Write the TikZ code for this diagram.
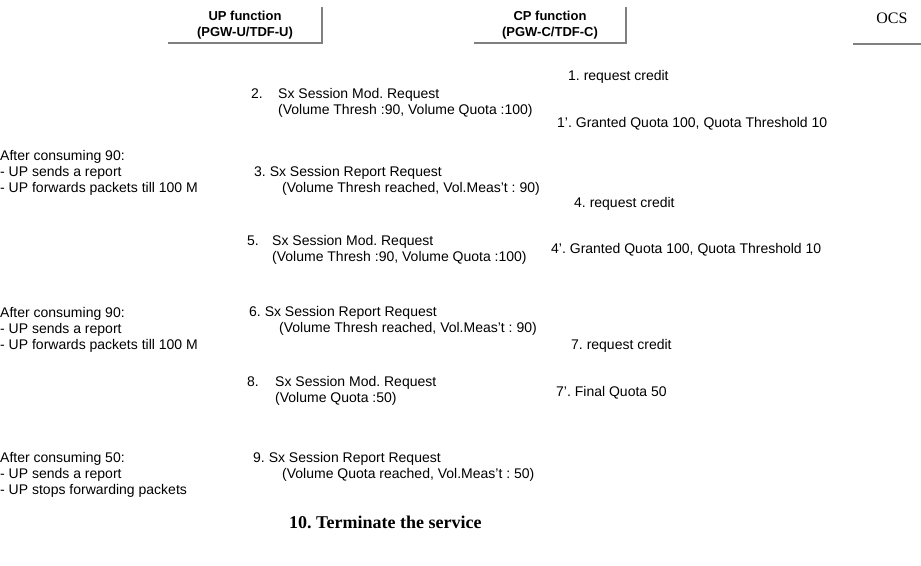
\documentclass[tikz,border=0pt]{standalone}
\usepackage{fontspec}
\setmainfont{Liberation Sans}
\newfontfamily\serifa{Liberation Serif}
\usetikzlibrary{positioning}
\definecolor{sombragris}{rgb}{0.5,0.5,0.5}
\frenchspacing
\tikzset{
  cabecera/.style={
    minimum height=36pt,
    align=center,
    inner sep=0pt,
    font=\fontsize{13}{16}\selectfont\bfseries
  },
  sombra/.style={
    draw=sombragris,
    line width=2pt
  },
  msg/.style={
    anchor=base west,
    align=left,
    inner sep=0pt,
    font=\fontsize{14}{16}\selectfont
  },
  nota/.style={
    msg
  },
  fin/.style={
    anchor=base west,
    inner sep=0pt,
    font=\serifa\fontsize{18}{20}\selectfont\bfseries
  }
}

\begin{document}
\begin{tikzpicture}[x=1pt,y=-1pt]
\useasboundingbox (0,0) rectangle (921,565);
% cabeceras
\node[cabecera,minimum width=154pt] (up) at (245,25) {UP function\\(PGW-U/TDF-U)};
\node[cabecera,minimum width=152pt] (cp) at (550,25) {CP function\\(PGW-C/TDF-C)};
\node[font=\serifa\fontsize{16}{16}\selectfont,inner sep=0pt] (ocs) at (892,18) {OCS};
\coordinate (ocsb) at (853,44);
\draw[sombra] (up.north east) -- (up.south east) -- (up.south west);
\draw[sombra] (cp.north east) -- (cp.south east) -- (cp.south west);
\draw[sombra] (ocsb) -- ++(70,0);
% primer ciclo (base = ultima linea)
\node[msg] (m1) at (568,80) {1. request credit};
\node[msg] (n2) at (251,98) {2.};
\node[msg] (m2) at (278,114) {Sx Session Mod. Request\\(Volume Thresh :90, Volume Quota :100)};
\node[msg] (m1b) at (557,127) {1'. Granted Quota 100, Quota Threshold 10};
\node[nota] (c1) at (0,192) {After consuming 90:\\- UP sends a report\\- UP forwards packets till 100 M};
\node[msg] (m3) at (254,192) {3. Sx Session Report Request\\\hspace*{28pt}(Volume Thresh reached, Vol.Meas't : 90)};
% segundo ciclo
\node[msg] (m4) at (574,207) {4. request credit};
\node[msg] (n5) at (247,245) {5.};
\node[msg] (m5) at (272,261) {Sx Session Mod. Request\\(Volume Thresh :90, Volume Quota :100)};
\node[msg] (m4b) at (551,253) {4'. Granted Quota 100, Quota Threshold 10};
\node[nota] (c2) at (0,349) {After consuming 90:\\- UP sends a report\\- UP forwards packets till 100 M};
\node[msg] (m6) at (249,332) {6. Sx Session Report Request\\\hspace*{30pt}(Volume Thresh reached, Vol.Meas't : 90)};
% tercer ciclo
\node[msg] (m7) at (571,349) {7. request credit};
\node[msg] (n8) at (247,386) {8.};
\node[msg] (m8) at (275,402) {Sx Session Mod. Request\\(Volume Quota :50)};
\node[msg] (m7b) at (556,396) {7'. Final Quota 50};
\node[nota] (c3) at (0,494) {After consuming 50:\\- UP sends a report\\- UP stops forwarding packets};
\node[msg] (m9) at (253,478) {9. Sx Session Report Request\\\hspace*{29pt}(Volume Quota reached, Vol.Meas't : 50)};
\node[fin] (m10) at (289,528) {10. Terminate the service};
\end{tikzpicture}
\end{document}
